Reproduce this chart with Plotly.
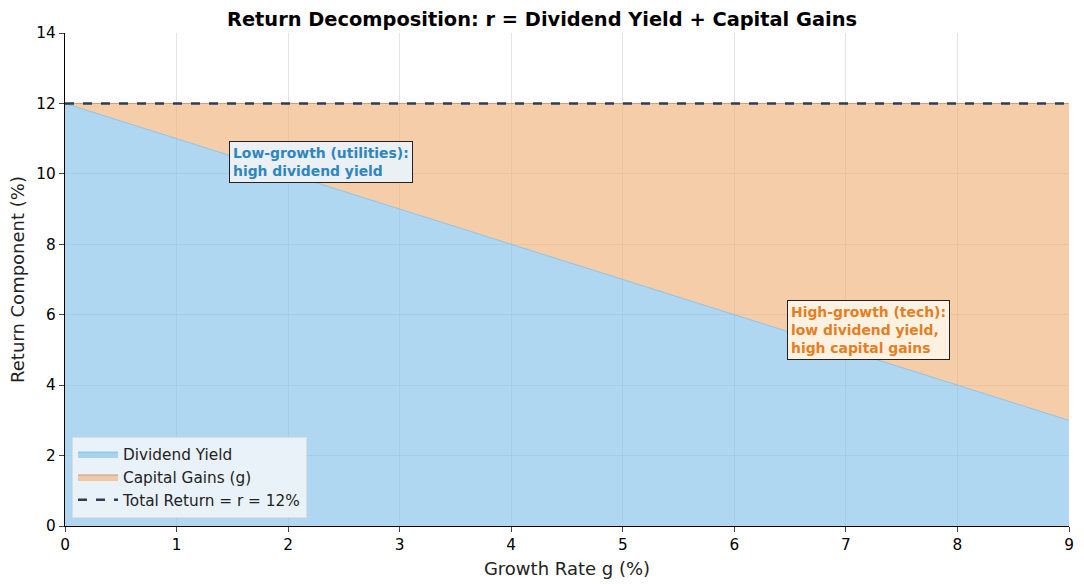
import plotly.graph_objects as go

growth = [0, 1, 2, 3, 4, 5, 6, 7, 8, 9]
dividend_yield = [12, 11, 10, 9, 8, 7, 6, 5, 4, 3]
capital_gains = [0, 1, 2, 3, 4, 5, 6, 7, 8, 9]
total_return = [12] * len(growth)

fig = go.Figure()
fig.add_trace(go.Scatter(x=growth, y=dividend_yield, stackgroup="s", name="Dividend Yield",
                         mode="lines", line=dict(color="rgba(133,193,233,0.9)", width=1),
                         fillcolor="rgba(133,193,233,0.65)"))
fig.add_trace(go.Scatter(x=growth, y=capital_gains, stackgroup="s", name="Capital Gains (g)",
                         mode="lines", line=dict(color="rgba(200,140,100,0.8)", width=1),
                         fillcolor="rgba(240,178,122,0.65)"))
fig.add_trace(go.Scatter(x=growth, y=total_return, name="Total Return = r = 12%", mode="lines",
                         line=dict(color="#2C3E50", width=2.5, dash="dash")))

fig.add_annotation(x=1.47, y=10.35, xanchor="left", yanchor="middle", align="left", showarrow=False,
                   text="<b>Low-growth (utilities):<br>high dividend yield</b>",
                   font=dict(color="#2E86C1", size=13.9, family="DejaVu Sans"),
                   bgcolor="#EAF0F4", bordercolor="#222222", borderwidth=1, borderpad=3)
fig.add_annotation(x=6.47, y=5.57, xanchor="left", yanchor="middle", align="left", showarrow=False,
                   text="<b>High-growth (tech):<br>low dividend yield,<br>high capital gains</b>",
                   font=dict(color="#E67E22", size=13.9, family="DejaVu Sans"),
                   bgcolor="#FDF1E2", bordercolor="#222222", borderwidth=1, borderpad=3)

fig.update_layout(
    width=1084, height=584,
    margin=dict(l=65, r=15, t=33, b=58),
    plot_bgcolor="white", paper_bgcolor="white",
    font=dict(family="DejaVu Sans", size=15.3, color="#222222"),
    title=dict(text="<b>Return Decomposition: r = Dividend Yield + Capital Gains</b>",
               x=0.5, xanchor="center", y=0.967, yanchor="middle", font=dict(size=19.4, color="black")),
    xaxis=dict(range=[0, 9], tickmode="linear", dtick=1, showgrid=True, gridcolor="rgba(200,200,200,0.5)",
               showline=True, linecolor="black", linewidth=1.2, ticks="outside", ticklen=5,
               tickfont=dict(size=15.3, color="black"), automargin=False,
               title=dict(text="Growth Rate g (%)", font=dict(size=18), standoff=8),
               zeroline=False),
    yaxis=dict(range=[0, 14], tickmode="linear", dtick=2, showgrid=True, gridcolor="rgba(200,200,200,0.5)",
               showline=True, linecolor="black", linewidth=1.2, ticks="outside", ticklen=5,
               tickfont=dict(size=15.3, color="black"), automargin=False,
               title=dict(text="Return Component (%)", font=dict(size=18), standoff=7),
               zeroline=False),
    legend=dict(x=0.007, y=0.017, xanchor="left", yanchor="bottom", bgcolor="rgba(240,245,250,0.9)",
                bordercolor="#DDDDDD", borderwidth=1, font=dict(size=15.3, color="#222222"),
                traceorder="normal", itemwidth=40),
)

fig.write_html("out.html", config={"displayModeBar": False},
               post_script="document.body.style.margin='0';")
